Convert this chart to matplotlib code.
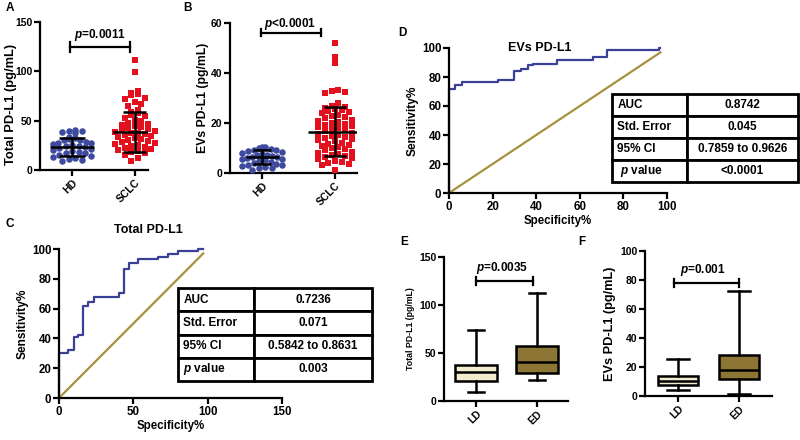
import matplotlib
matplotlib.use("Agg")
import numpy as np
from matplotlib import pyplot as plt

plt.rcParams['font.family'] = ['Liberation Sans', 'DejaVu Sans']
plt.rcParams['font.weight'] = 'bold'
plt.rcParams['mathtext.fontset'] = 'custom'
plt.rcParams['mathtext.it'] = 'Liberation Sans:italic:bold'
plt.rcParams['mathtext.rm'] = 'Liberation Sans:bold'

# ---- data ----
groups = ["HD", "SCLC"]
total_hd = [41, 40, 40, 39, 38, 33, 32, 31, 30, 30, 28, 27, 27, 26, 25, 24, 24, 23,
            22, 21, 20, 19, 18, 17, 17, 15, 14, 13, 12, 11, 10, 9]
total_sclc = [111, 99, 80, 78, 77, 76, 73, 72, 69, 67, 65, 61, 59, 58, 56, 55, 53, 51,
              50, 48, 47, 46, 45, 44, 43, 42, 41, 40, 39, 38, 37, 36, 35, 34, 33, 32,
              31, 30, 29, 28, 27, 26, 25, 24, 23, 22, 21, 20, 19, 18, 17, 15, 12, 9]
evs_hd = [10.5, 10.2, 9.8, 9.6, 9.3, 9.0, 8.8, 8.4, 8.0, 7.6, 7.3, 7.0, 6.8, 6.5, 6.3,
          6.0, 5.7, 5.4, 5.0, 4.7, 4.4, 4.0, 3.6, 3.3, 3.0, 2.8, 2.5, 2.1, 1.8, 1.1]
evs_sclc = [52.0, 46.2, 43.8, 33.2, 32.6, 32.4, 32.1, 28.0, 26.8, 26.4, 26.1, 25.7, 25.2,
            24.8, 24.3, 23.9, 23.2, 22.8, 22.4, 21.9, 21.3, 20.9, 20.5, 20.1, 19.6, 19.2,
            18.8, 18.3, 17.9, 17.4, 17.0, 16.6, 16.1, 15.7, 15.2, 14.8, 14.3, 13.9, 13.5,
            13.0, 12.6, 12.1, 11.7, 11.2, 10.8, 10.3, 9.9, 9.4, 9.0, 8.5, 8.1, 7.6, 7.2,
            6.7, 6.3, 5.8, 5.4, 4.9, 4.5, 4.0, 3.6, 3.1, 1.2]
total_mean = [23.6, 38.8]
total_sd = [9.0, 20.3]
evs_mean = [6.3, 16.5]
evs_sd = [2.7, 9.9]

evs_spec = [0, 0, 2.8, 5.8, 22.6, 29.8, 32.9, 36.4, 38.7, 49.4, 66.0, 72.3, 96.5, 97]
evs_sens = [0, 72, 74.7, 76.3, 78.1, 83.9, 85.5, 88.0, 89.2, 91.9, 93.8, 98.8, 100, 100]
tot_spec = [0, 0, 6.3, 10.1, 13.0, 16.4, 19.8, 23.5, 40.6, 43.7, 47.3, 53.3, 66.8, 73.5,
            80.2, 93.7, 97]
tot_sens = [0, 30, 32.2, 41.2, 42.3, 61.7, 64.6, 67.6, 70.7, 86.4, 90.8, 93.1, 94.8, 96.4,
            98.9, 100, 100]
evs_table = [["AUC", "0.8742"], ["Std. Error", "0.045"],
             ["95% CI", "0.7859 to 0.9626"], [r" $p$ value", "<0.0001"]]
tot_table = [["AUC", "0.7236"], ["Std. Error", "0.071"],
             ["95% CI", "0.5842 to 0.8631"], [r"$p$ value", "0.003"]]

stages = ["LD", "ED"]
# whislo, q1, med, q3, whishi
total_box = [[9.7, 21, 30.5, 37.5, 74], [22, 29, 41, 57, 113]]
evs_box = [[4, 7.3, 10.5, 14, 25.3], [1.2, 11.5, 18, 28, 72.4]]

BLUE = "#3E4A9E"
RED = "#E3101D"
LINE_BLUE = "#3A3F98"
OLIVE = "#A8913E"
CREAM = "#F2ECCF"
BROWN = "#8C7535"

W, H = 800, 440
fig = plt.figure(figsize=(8, 4.4), dpi=100)


def px_axes(l, t, r, b):
    return fig.add_axes([l / W, 1 - b / H, (r - l) / W, (b - t) / H])


def style(ax, fs=7.5):
    for s in ["top", "right"]:
        ax.spines[s].set_visible(False)
    for s in ["left", "bottom"]:
        ax.spines[s].set_linewidth(1.6)
    ax.tick_params(direction="out", length=4, width=1.6, labelsize=fs, pad=1.5)
    for lab in ax.get_xticklabels() + ax.get_yticklabels():
        lab.set_fontweight("bold")


def bracket(ax, x0, x1, y, h, text, tx, ty):
    ax.plot([x0, x1], [y, y], color="black", lw=1.6, clip_on=False)
    ax.plot([x0, x0], [y - h, y + h], color="black", lw=1.6, clip_on=False)
    ax.plot([x1, x1], [y - h, y + h], color="black", lw=1.6, clip_on=False)
    ax.text(tx, ty, text, ha="center", va="center", fontsize=8.5, fontweight="bold")


def spread(vals, center, row_h, step, max_w):
    # graphpad-like scatter: values binned in rows, each row spread sideways
    v = np.asarray(vals, dtype=float)
    x = np.full(len(v), float(center))
    rows = np.floor(v / row_h)
    for r in np.unique(rows):
        idx = np.where(rows == r)[0]
        idx = idx[np.argsort(v[idx])]
        k = len(idx)
        if k == 1:
            continue
        sp = min(step, max_w / (k - 1))
        offs = (np.arange(k) - (k - 1) / 2) * sp
        # interleave so neighbouring values land on different sides
        perm = np.r_[np.arange(0, k, 2), np.arange(1, k, 2)[::-1]]
        x[idx[perm]] = center + offs
    return x


def scatter_panel(ax, hd, sclc, means, sds, ylim, yticks, ylabel, lfs, mw, cw, row_h,
                  step, max_w):
    ax.scatter(spread(hd, 0, row_h, step, max_w[0]), hd, s=22, marker="o", color=BLUE,
               linewidths=0, zorder=3, clip_on=False)
    ax.scatter(spread(sclc, 1, row_h, step, max_w[1]), sclc, s=19, marker="s", color=RED,
               linewidths=0, zorder=3, clip_on=False)
    for i in range(2):
        ax.hlines(means[i], i - mw[i] / 2, i + mw[i] / 2, color="black", lw=1.8, zorder=5)
        ax.vlines(i, means[i] - sds[i], means[i] + sds[i], color="black", lw=1.8, zorder=5)
        for yy in (means[i] - sds[i], means[i] + sds[i]):
            ax.hlines(yy, i - cw[i] / 2, i + cw[i] / 2, color="black", lw=1.8, zorder=5)
    ax.set_ylim(ylim)
    ax.set_yticks(yticks)
    ax.set_xticks([0, 1])
    ax.set_xticklabels(groups, rotation=45, ha="right", va="top", rotation_mode="anchor")
    ax.set_ylabel(ylabel, fontsize=lfs, fontweight="bold", labelpad=1)
    style(ax)


# A
axA = px_axes(40, 22, 148, 170)
scatter_panel(axA, total_hd, total_sclc, total_mean, total_sd, (0, 150), [0, 50, 100, 150],
              "Total PD-L1 (pg/mL)", 9.3, [0.71, 0.68], [0.4, 0.37], 6.5, 0.106,
              [0.62, 0.72])
axA.set_xlim(-0.51, 1.21)
axA.yaxis.set_label_coords(-0.215, 0.44)
bracket(axA, -0.03, 0.92, 124.6, 5, r"$p$=0.0011", 0.44, 137)

# B
axB = px_axes(230, 23, 357, 173)
scatter_panel(axB, evs_hd, evs_sclc, evs_mean, evs_sd, (0, 60), [0, 20, 40, 60],
              "EVs PD-L1 (pg/mL)", 8.8, [0.45, 0.73], [0.24, 0.3], 2.6, 0.092, [0.55, 0.6])
axB.set_xlim(-0.44, 1.30)
bracket(axB, -0.02, 0.80, 56, 1.4, r"$p$<0.0001", 0.38, 59.5)


def roc_panel(ax, spec, sens, xlim, xticks, title, tpos, table, bbox, colw):
    ax.plot(spec, sens, drawstyle="steps-post", color=LINE_BLUE, lw=1.6, clip_on=False)
    ax.plot([0, 97], [0, 97], color=OLIVE, lw=1.6, clip_on=False)
    ax.set_xlim(xlim)
    ax.set_ylim(0, 100)
    ax.set_xticks(xticks)
    ax.set_yticks([0, 20, 40, 60, 80, 100])
    ax.set_xlabel("Specificity%", fontsize=8.3, fontweight="bold", labelpad=2)
    ax.set_ylabel("Sensitivity%", fontsize=8.6, fontweight="bold", labelpad=2)
    ax.text(tpos[0], tpos[1], title, fontsize=9, fontweight="bold", ha="center",
            va="center", clip_on=False)
    tb = ax.table(cellText=table, bbox=bbox, colWidths=colw, cellLoc="center")
    tb.auto_set_font_size(False)
    for (r, c), cell in tb.get_celld().items():
        cell.set_linewidth(2)
        cell.set_text_props(fontsize=8.5, fontweight="bold")
        if c == 0:
            cell._loc = "left"
            cell.PAD = 0.07
            cell.get_text().set_horizontalalignment("left")
    tb.set_clip_on(False)
    style(ax, 8.3)


# D
axD = px_axes(449, 48, 667, 193)
roc_panel(axD, evs_spec, evs_sens, (0, 100), [0, 20, 40, 60, 80, 100], "EVs PD-L1",
          (41.7, 100), evs_table, [0.748, 0.078, 0.853, 0.607], [0.403, 0.597])

# C
axC = px_axes(59, 249, 282, 398)
roc_panel(axC, tot_spec, tot_sens, (0, 150), [0, 50, 100, 150], "Total PD-L1",
          (60, 112.8), tot_table, [0.534, 0.114, 0.870, 0.624], [0.39, 0.61])


def box_panel(ax, stats, xlim, ylim, yticks, ylabel, lfs, bw, cw):
    bx = []
    for i, s in enumerate(stats):
        bx.append({"whislo": s[0], "q1": s[1], "med": s[2], "q3": s[3], "whishi": s[4],
                   "fliers": [], "label": stages[i]})
    parts = ax.bxp(bx, positions=[0, 1], widths=bw, patch_artist=True, showfliers=False,
                   capwidths=cw,
                   boxprops=dict(linewidth=1.8, edgecolor="black"),
                   medianprops=dict(color="black", linewidth=1.8),
                   whiskerprops=dict(color="black", linewidth=1.8),
                   capprops=dict(color="black", linewidth=1.8))
    for p, c in zip(parts["boxes"], [CREAM, BROWN]):
        p.set_facecolor(c)
    ax.set_xlim(xlim)
    ax.set_ylim(ylim)
    ax.set_yticks(yticks)
    ax.set_xticks([0, 1])
    ax.set_xticklabels(stages, rotation=45, ha="right", va="top", rotation_mode="anchor")
    ax.set_ylabel(ylabel, fontsize=lfs, fontweight="bold", labelpad=3)
    style(ax)


# E
axE = px_axes(444, 257, 568, 401)
box_panel(axE, total_box, (-0.525, 1.51), (0, 150), [0, 50, 100, 150],
          "Total PD-L1 (pg/mL)", 6.3, 0.69, 0.25)
bracket(axE, 0, 0.93, 125, 4.5, r"$p$=0.0035", 0.42, 138.5)

# F
axF = px_axes(645, 251, 772, 396)
box_panel(axF, evs_box, (-0.54, 1.54), (0, 100), [0, 20, 40, 60, 80, 100],
          "EVs PD-L1 (pg/mL)", 9.2, 0.67, 0.35)
bracket(axF, -0.07, 1.0, 78, 3, r"$p$=0.001", 0.41, 87)

# panel letters
for lab, x, y in [("A", 6, 8), ("B", 183, 8), ("D", 398, 33), ("C", 6, 224),
                  ("E", 400, 242), ("F", 578, 242)]:
    fig.text(x / W, 1 - y / H, lab, fontsize=8.5, fontweight="bold", ha="left", va="center")

fig.savefig("out.png", dpi=100)
